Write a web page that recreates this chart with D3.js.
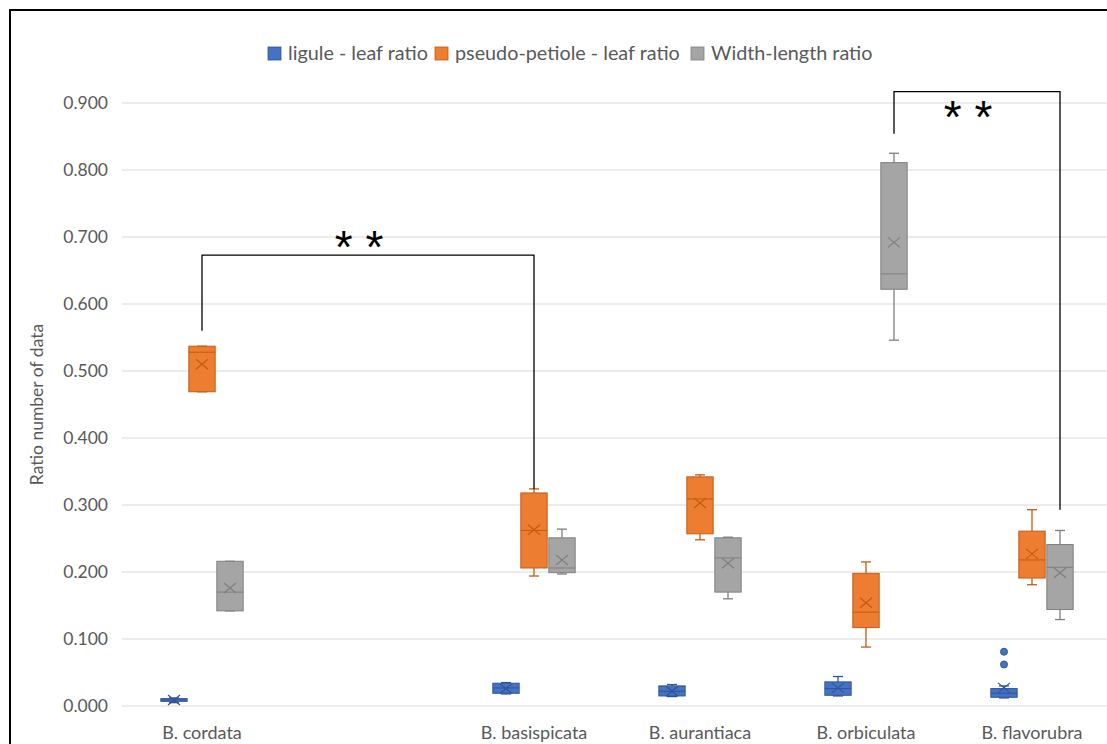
<!DOCTYPE html>
<html>
<head>
<meta charset="utf-8">
<script src="https://cdn.jsdelivr.net/npm/d3@7"></script>
<style>
  body { margin: 0; background: #fff; }
  svg { display: block; font-family: Lato, "Open Sans", sans-serif; }
</style>
</head>
<body>
<svg id="chart" width="1107" height="744"></svg>
<script>
// categories (second slot is an empty category, as in the original sheet)
const categories = ["B. cordata", "", "B. basispicata", "B. aurantiaca", "B. orbiculata", "B. flavorubra"];
const seriesNames = ["ligule - leaf ratio", "pseudo-petiole - leaf ratio", "Width-length ratio"];
const seriesFill = ["#4472C4", "#ED7D31", "#A5A5A5"];
const seriesStroke = ["#2F5597", "#C55A11", "#7F7F7F"];
const yTicks = [0, 0.1, 0.2, 0.3, 0.4, 0.5, 0.6, 0.7, 0.8, 0.9];

// [min, q1, median, q3, max, mean] per category
const liguleStats = [
  [0.005, 0.007, 0.009, 0.011, 0.012, 0.009],
  null,
  [0.018, 0.019, 0.027, 0.034, 0.035, 0.026],
  [0.014, 0.015, 0.022, 0.030, 0.032, 0.022],
  [0.015, 0.016, 0.026, 0.036, 0.044, 0.027],
  [0.012, 0.013, 0.019, 0.026, 0.030, 0.027]
];
const petioleStats = [
  [0.469, 0.469, 0.528, 0.537, 0.537, 0.510],
  null,
  [0.194, 0.206, 0.262, 0.318, 0.324, 0.263],
  [0.248, 0.257, 0.309, 0.342, 0.345, 0.303],
  [0.088, 0.117, 0.140, 0.198, 0.215, 0.154],
  [0.181, 0.191, 0.218, 0.261, 0.293, 0.227]
];
const widthStats = [
  [0.142, 0.142, 0.170, 0.216, 0.216, 0.176],
  null,
  [0.197, 0.199, 0.206, 0.251, 0.264, 0.218],
  [0.160, 0.170, 0.221, 0.251, 0.252, 0.213],
  [0.546, 0.622, 0.645, 0.811, 0.825, 0.692],
  [0.129, 0.144, 0.207, 0.241, 0.262, 0.199]
];
// outliers: [category, series index, value]
const outliers = [["B. flavorubra", 0, 0.062], ["B. flavorubra", 0, 0.081]];

// significance brackets
const brackets = [
  { from: "B. cordata", fromSeries: 1, fromY: 0.560, to: "B. basispicata", toSeries: 1, toY: 0.324, top: 0.673, starY: 0.661 },
  { from: "B. orbiculata", fromSeries: 2, fromY: 0.854, to: "B. flavorubra", toSeries: 2, toY: 0.293, top: 0.917, starY: 0.855 }
];

const allStats = [liguleStats, petioleStats, widthStats];

const svg = d3.select("#chart");

// outer frame
svg.append("rect")
  .attr("x", 10).attr("y", 10)
  .attr("width", 1200).attr("height", 800)
  .attr("fill", "none").attr("stroke", "#000").attr("stroke-width", 2);

const x = d3.scaleBand().domain(categories).range([119, 1115]);
const sub = d3.scaleBand().domain(d3.range(3)).range([-42, 42]).paddingInner(0.06).paddingOuter(0.03);
const y = d3.scaleLinear().domain([0, 0.9]).range([706, 103]);

const cx = (cat, s) => x(cat) + x.bandwidth() / 2 + sub(s) + sub.bandwidth() / 2;

// gridlines
svg.append("g")
  .selectAll("line")
  .data(yTicks)
  .join("line")
  .attr("x1", 122).attr("x2", 1107)
  .attr("y1", d => y(d)).attr("y2", d => y(d))
  .attr("stroke", "#d9d9d9").attr("stroke-width", 1);

// y axis labels
const yAxis = svg.append("g")
  .attr("transform", "translate(122,0)")
  .call(d3.axisLeft(y).tickValues(yTicks).tickFormat(d3.format(".3f")).tickSize(0).tickPadding(14));
yAxis.select(".domain").remove();
yAxis.selectAll("text")
  .attr("fill", "#595959")
  .style("font-size", "17.5px")
  .style("font-family", "Lato, sans-serif");

svg.append("text")
  .attr("transform", "translate(43," + (y(0.45)) + ") rotate(-90)")
  .attr("text-anchor", "middle")
  .attr("fill", "#595959")
  .style("font-size", "17.5px")
  .text("Ratio number of data");

// category labels
svg.append("g")
  .selectAll("text")
  .data(categories)
  .join("text")
  .attr("x", d => x(d) + x.bandwidth() / 2)
  .attr("y", 739)
  .attr("text-anchor", "middle")
  .attr("fill", "#595959")
  .style("font-size", "18px")
  .text(d => d);

// boxes
const bw = sub.bandwidth();
allStats.forEach((stats, s) => {
  const g = svg.append("g");
  stats.forEach((st, i) => {
    if (!st) return;
    const [mn, q1, med, q3, mx, mean] = st;
    const c = cx(categories[i], s);
    const stroke = seriesStroke[s];
    // whiskers
    g.append("line").attr("x1", c).attr("x2", c).attr("y1", y(mx)).attr("y2", y(q3))
      .attr("stroke", stroke).attr("stroke-width", 1.3);
    g.append("line").attr("x1", c).attr("x2", c).attr("y1", y(q1)).attr("y2", y(mn))
      .attr("stroke", stroke).attr("stroke-width", 1.3);
    [mn, mx].forEach(v => {
      g.append("line").attr("x1", c - 5).attr("x2", c + 5).attr("y1", y(v)).attr("y2", y(v))
        .attr("stroke", stroke).attr("stroke-width", 1.3);
    });
    // box
    g.append("rect")
      .attr("x", c - bw / 2).attr("y", y(q3))
      .attr("width", bw).attr("height", Math.max(y(q1) - y(q3), 2))
      .attr("fill", seriesFill[s]).attr("stroke", stroke).attr("stroke-width", 1);
    // median
    g.append("line").attr("x1", c - bw / 2).attr("x2", c + bw / 2)
      .attr("y1", y(med)).attr("y2", y(med))
      .attr("stroke", stroke).attr("stroke-width", 1);
    // mean marker
    const my = y(mean);
    g.append("path")
      .attr("d", `M${c - 6},${my - 5}L${c + 6},${my + 5}M${c - 6},${my + 5}L${c + 6},${my - 5}`)
      .attr("stroke", stroke).attr("stroke-width", 1.2).attr("fill", "none");
  });
});

// outliers
svg.append("g")
  .selectAll("circle")
  .data(outliers)
  .join("circle")
  .attr("cx", d => cx(d[0], d[1]))
  .attr("cy", d => y(d[2]))
  .attr("r", 3.5)
  .attr("fill", d => seriesFill[d[1]])
  .attr("stroke", d => seriesStroke[d[1]]);

// significance brackets
brackets.forEach(b => {
  const x1 = cx(b.from, b.fromSeries), x2 = cx(b.to, b.toSeries);
  svg.append("path")
    .attr("d", `M${x1},${y(b.fromY)}V${y(b.top)}H${x2}V${y(b.toY)}`)
    .attr("fill", "none").attr("stroke", "#000").attr("stroke-width", 1.3);
  svg.append("text")
    .attr("x", (x1 + x2) / 2 - 9)
    .attr("y", y(b.starY))
    .attr("text-anchor", "middle")
    .style("font-family", "'Liberation Sans', Arial, sans-serif")
    .style("font-size", "46px")
    .attr("fill", "#000")
    .text("* *");
});

// legend
const legendX = [268, 435, 691];
const legend = svg.append("g")
  .selectAll("g")
  .data(seriesNames)
  .join("g")
  .attr("transform", (d, i) => `translate(${legendX[i]},47)`);
legend.append("rect")
  .attr("width", 13).attr("height", 13)
  .attr("fill", (d, i) => seriesFill[i])
  .attr("stroke", (d, i) => seriesStroke[i]).attr("stroke-width", 0.8);
legend.append("text")
  .attr("x", 20).attr("y", 13)
  .attr("fill", "#595959")
  .style("font-size", "19.8px")
  .text(d => d);
</script>
</body>
</html>
